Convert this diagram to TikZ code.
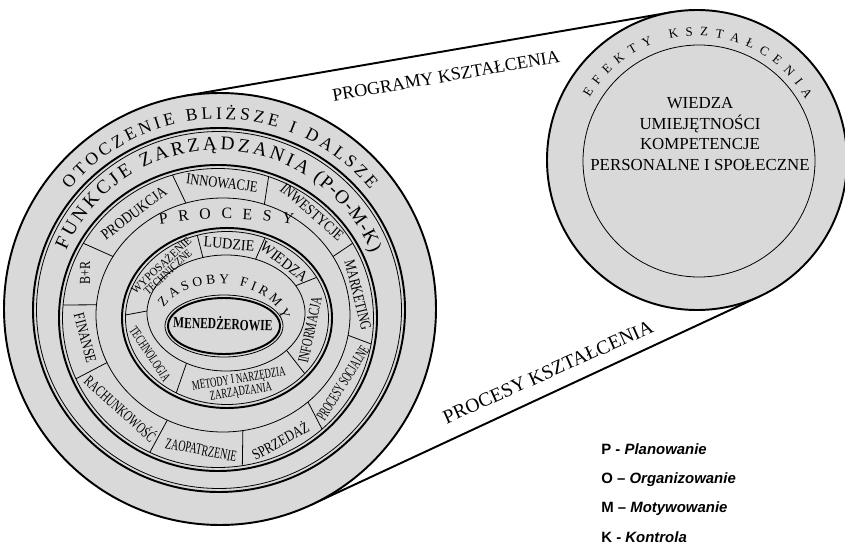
\documentclass[tikz,border=0pt]{standalone}
\usepackage{fontspec}
\setmainfont{Liberation Serif}
\newfontfamily\legendfont{Liberation Sans}
\usepackage{graphicx}
\usepackage{tikz}
\usetikzlibrary{decorations.text}
\newcommand{\sq}[2]{\scalebox{#1}[1]{#2}}
\newcommand{\ringpair}[4]{%
  \draw[heavy] (#1,#2) ellipse [x radius=#3, y radius=#4];
  \draw[light] (#1,#2) ellipse [x radius=#3-3.5, y radius=#4-3.5];}

\begin{document}
\begin{tikzpicture}[x=0.02cm,y=-0.02cm]
		\tikzset{
			zone/.style={fill=gray!30},
			heavy/.style={line width=1.1pt},
			light/.style={line width=0.45pt},
			seg/.style={inner sep=0pt,font=\fontsize{8.8}{8.8}\selectfont},
			segsmall/.style={inner sep=0pt,align=center,font=\fontsize{7.7}{7.4}\selectfont},
			curved/.style={decorate,decoration={text along path,text align=fit to path,text={#1}}},
			legend/.style={anchor=west,inner sep=0pt,font=\legendfont\bfseries\fontsize{8.5}{10}\selectfont}
		}
		\useasboundingbox (0,0) rectangle (845,544);
		
		\coordinate (bigTop) at (183.4,96.1);
		\coordinate (smallTop) at (671.6,12.2);
		\coordinate (bigBot) at (311.1,504.8);
		\coordinate (smallBot) at (760.3,296);
		
		\draw[heavy] (bigTop) -- (smallTop);
		\draw[heavy] (bigBot) -- (smallBot);
		
		\draw[heavy,zone] (220,309) circle [radius=216];
		\draw[heavy,zone] (697,160) circle [radius=150];
		\draw[light] (699,161) circle [radius=116];
		
		\ringpair{219}{310}{186}{182}
		\ringpair{218}{318}{159}{153}
		\draw[light] (223,315) ellipse [x radius=127, y radius=117];
		\ringpair{227}{318}{105}{90}
		\draw[light] (226,313) ellipse [x radius=79, y radius=58];
		\draw[light] (224,326) ellipse [x radius=59, y radius=31];
		\draw[heavy] (224,326) ellipse [x radius=56, y radius=28];
		
		% podzialy pierscieni
		\foreach \a in {210,185,156,116,81,48,10,330,289,253}
			\draw[light] ({223+127*cos(\a)},{315+117*sin(\a)}) -- ({218+155.5*cos(\a)},{318+149.5*sin(\a)});
		\foreach \a in {253,292,332,40,120,182}
			\draw[light] ({226+79*cos(\a)},{313+58*sin(\a)}) -- ({227+101.5*cos(\a)},{318+86.5*sin(\a)});
		
		% napisy po luku
		\path[curved={|\fontsize{10}{12}\selectfont|OTOCZENIE BLIŻSZE I DALSZE}]
			(220,314) ++(219.5:195) arc [start angle=219.5, end angle=320.5, radius=195];
		\path[curved={|\fontsize{11}{13}\selectfont|FUNKCJE ZARZĄDZANIA}]
			(218,315) ++(203:165) arc [start angle=203, end angle=302, radius=165];
		\path[curved={|\fontsize{11}{13}\selectfont|(P-O-M-K)}]
			(218,315) ++(305:165) arc [start angle=305, end angle=338, radius=165];
		\path[curved={|\fontsize{9}{11}\selectfont|PROCESY}]
			(226,604) ++(260.1:385) arc [start angle=260.1, end angle=280, radius=385];
		\path[curved={|\fontsize{7.7}{9}\selectfont|ZASOBY FIRMY}]
			(220,325) ++({62*cos(205)},{41*sin(205)}) arc [start angle=205, end angle=353, x radius=62, y radius=41];
		\path[curved={|\fontsize{7.3}{9}\selectfont|EFEKTY KSZTAŁCENIA}]
			(697,160) ++(210:124) arc [start angle=210, end angle=331, radius=124];
		
		\node[seg,rotate=37] (produkcja) at (134,213) {\sq{0.855}{PRODUKCJA}};
		\node[seg,rotate=-7] (innowacje) at (222,183) {\sq{0.81}{INNOWACJE}};
		\node[seg,rotate=-41] (inwestycje) at (312,212) {\sq{0.82}{INWESTYCJE}};
		\node[seg,rotate=-76] (marketing) at (358,295) {\sq{0.77}{MARKETING}};
		\node[seg,rotate=58] (socjalne) at (343,383) {\sq{0.565}{PROCESY SOCJALNE}};
		\node[seg,rotate=29] (sprzedaz) at (280,440) {\sq{0.8}{SPRZEDAŻ}};
		\node[seg,rotate=-11] (zaopatrzenie) at (201,450) {\sq{0.64}{ZAOPATRZENIE}};
		\node[seg,rotate=-42] (rachunkowosc) at (121,408) {\sq{0.68}{RACHUNKOWOŚĆ}};
		\node[seg,rotate=-75] (finanse) at (85,338) {\sq{0.78}{FINANSE}};
		\node[seg,rotate=90] (br) at (85,273) {\sq{0.78}{B+R}};
		
		\node[segsmall,rotate=43,font=\fontsize{6.5}{5.4}\selectfont] (wyposazenie) at (164,268) {\sq{0.95}{WYPOSAŻENIE}\\\sq{0.85}{TECHNICZNE}};
		\node[seg,rotate=-5] (ludzie) at (229,244) {\sq{0.91}{LUDZIE}};
		\node[seg,rotate=-38] (wiedza) at (284,262) {\sq{0.91}{WIEDZA}};
		\node[seg,rotate=78] (informacja) at (310,330) {\sq{0.68}{INFORMACJA}};
		\node[segsmall,rotate=9] (metody) at (240,386) {\sq{0.645}{METODY I NARZĘDZIA}\\\sq{0.645}{ZARZĄDZANIA}};
		\node[segsmall,rotate=-56] (technologia) at (150,354) {\sq{0.645}{TECHNOLOGIA}};
		\node[seg,rotate=-2,font=\bfseries\fontsize{8.8}{8.8}\selectfont] (menedzerowie) at (223,323) {\sq{0.745}{MENEDŻEROWIE}};
		
		\node[align=center,font=\fontsize{9.6}{11.7}\selectfont] (efekty) at (700,134) {WIEDZA\\UMIEJĘTNOŚCI\\KOMPETENCJE\\PERSONALNE I SPOŁECZNE};
		
		\node[rotate=9.8,inner sep=0pt,font=\fontsize{10.3}{12}\selectfont] (programy) at (446,76) {PROGRAMY KSZTAŁCENIA};
		\node[rotate=24,inner sep=0pt,font=\fontsize{11.2}{13}\selectfont] (procesy) at (548,372) {PROCESY KSZTAŁCENIA};
		
		\node[legend] (p) at (601,449) {P - \textit{Planowanie}};
		\node[legend] (o) at (601,480) {O – \textit{Organizowanie}};
		\node[legend] (m) at (601,509) {M – \textit{Motywowanie}};
		\node[legend] (k) at (601,537) {K - \textit{Kontrola}};
\end{tikzpicture}
\end{document}
